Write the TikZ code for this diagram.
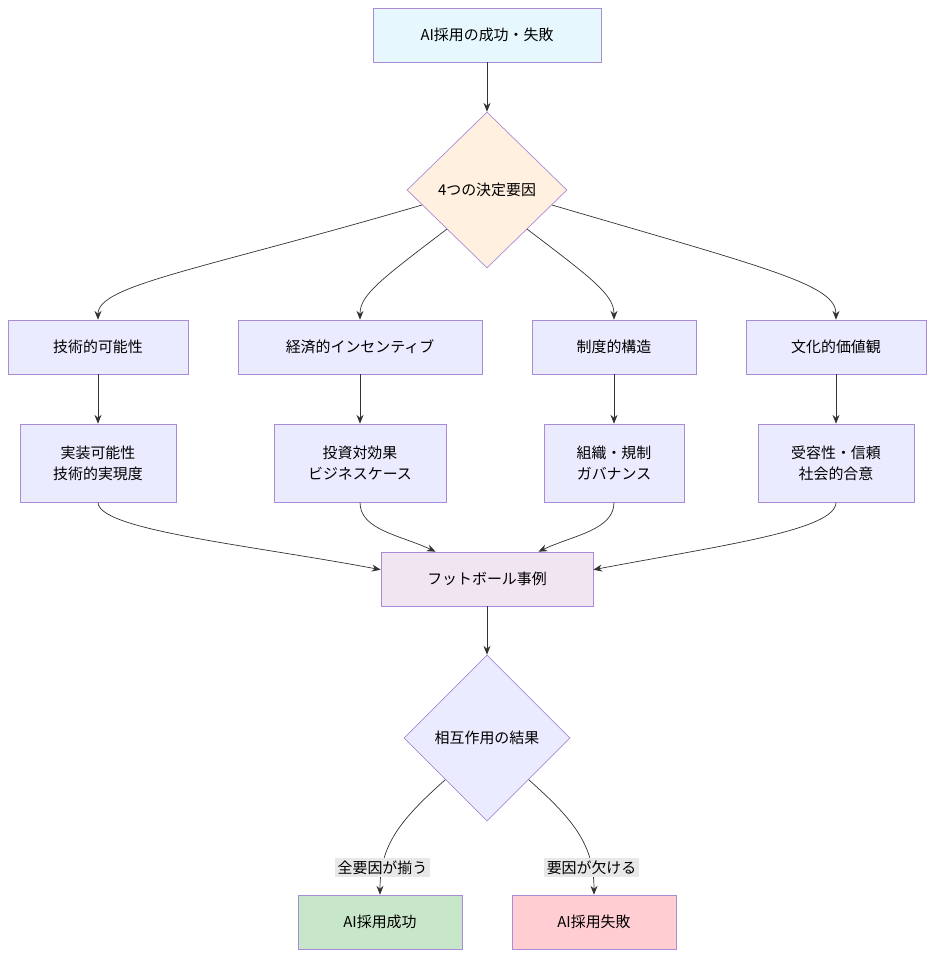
\documentclass[tikz,border=0pt]{standalone}
\usepackage{fontspec}
\setmainfont{Noto Sans CJK JP}
\usetikzlibrary{shapes.geometric,arrows.meta}
\definecolor{edgegray}{HTML}{333333}
\definecolor{boxline}{HTML}{A98BD8}
\definecolor{okgreen}{HTML}{C8E6C9}
\definecolor{ngred}{HTML}{FFCDD2}
\begin{document}
\begin{tikzpicture}[x=0.02cm,y=-0.02cm,font=\fontsize{8.5}{12}\selectfont,
  box/.style={draw=boxline,fill=#1,minimum height=1.08cm,align=center,inner sep=0pt},
  dia/.style={diamond,draw=boxline,fill=#1,aspect=1,inner sep=0pt},
  arr/.style={-{Stealth[length=5pt,width=4pt]},draw=edgegray,thin},
  lbl/.style={fill=gray!18,inner sep=1.5pt}]
\useasboundingbox (0,0) rectangle (934,958);

% start and first decision
\node[box=cyan!10,minimum width=4.56cm] (goal) at (487,35) {AI採用の成功・失敗};
\node[dia=orange!12,minimum width=3.2cm,minimum height=3.12cm] (key) at (487,190) {4つの決定要因};

% the four factors
\node[box=blue!8,minimum width=3.6cm] (tech) at (98,347) {技術的可能性};
\node[box=blue!8,minimum width=4.88cm] (econ) at (360,347) {経済的インセンティブ};
\node[box=blue!8,minimum width=3.28cm] (inst) at (614,347) {制度的構造};
\node[box=blue!8,minimum width=3.6cm] (cult) at (836,347) {文化的価値観};

% details
\node[box=blue!8,minimum width=3.12cm,minimum height=1.56cm] (techd) at (98,463) {実装可能性\\技術的実現度};
\node[box=blue!8,minimum width=3.44cm,minimum height=1.56cm] (econd) at (360,463) {投資対効果\\ビジネスケース};
\node[box=blue!8,minimum width=2.8cm,minimum height=1.56cm] (instd) at (614,463) {組織・規制\\ガバナンス};
\node[box=blue!8,minimum width=3.12cm,minimum height=1.56cm] (cultd) at (836,463) {受容性・信頼\\社会的合意};

% case and outcome
\node[box=violet!10,minimum width=4.24cm] (case) at (487,579) {フットボール事例};
\node[dia=blue!8,minimum width=3.32cm,minimum height=3.32cm] (mix) at (487,738) {相互作用の結果};
\node[box=okgreen,minimum width=3.28cm] (win) at (380,922) {AI採用成功};
\node[box=ngred,minimum width=3.28cm] (fail) at (594,922) {AI採用失敗};

\draw[arr] (goal) -- (key);
\draw[arr] (key.193) .. controls (200,270) and (98,285) .. (tech.north);
\draw[arr] (key.south west) .. controls (380,280) and (360,295) .. (econ.north);
\draw[arr] (key.south east) .. controls (594,280) and (614,295) .. (inst.north);
\draw[arr] (key.-13) .. controls (774,270) and (836,285) .. (cult.north);
\draw[arr] (tech) -- (techd);
\draw[arr] (econ) -- (econd);
\draw[arr] (inst) -- (instd);
\draw[arr] (cult) -- (cultd);
\draw[arr] (techd.south) .. controls (98,530) and (250,545) .. (case.175);
\draw[arr] (econd.south) .. controls (360,530) and (400,535) .. (case.152);
\draw[arr] (instd.south) .. controls (614,530) and (574,535) .. (case.28);
\draw[arr] (cultd.south) .. controls (836,530) and (724,545) .. (case.5);
\draw[arr] (case) -- (mix);
\draw[arr] (mix.south west) .. controls (400,820) and (380,845) .. node[lbl,pos=0.8] {全要因が揃う} (win.north);
\draw[arr] (mix.south east) .. controls (574,820) and (594,845) .. node[lbl,pos=0.8] {要因が欠ける} (fail.north);
\end{tikzpicture}
\end{document}
